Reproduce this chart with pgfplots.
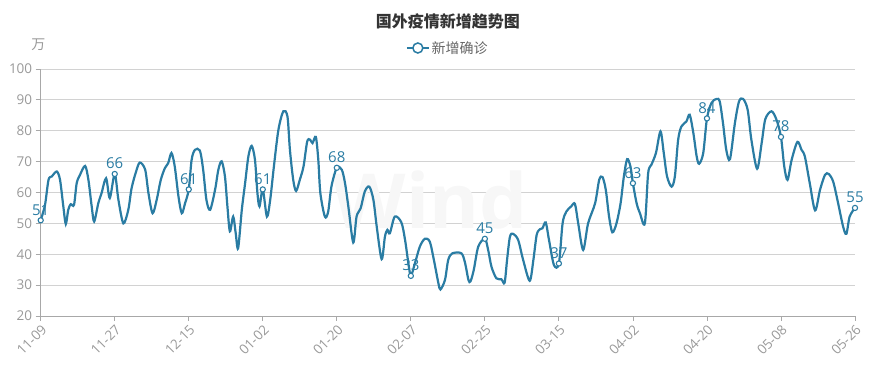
\documentclass[border=0pt]{standalone}
\usepackage{fontspec}
\setmainfont{Open Sans}
\newfontfamily\cjk{Noto Sans CJK SC}
\usepackage{pgfplots}
\pgfplotsset{compat=1.18}
\definecolor{lineblue}{HTML}{2A7CA3}
\definecolor{gridgray}{HTML}{D2D2D2}
\definecolor{axisgray}{HTML}{A8A8A8}
\definecolor{labelgray}{HTML}{999999}
\definecolor{titlegray}{HTML}{333333}
\begin{document}
\begin{tikzpicture}
\path[use as bounding box] (0,0) rectangle (870pt,385pt);
\begin{axis}[
  at={(40.7pt,69pt)}, anchor=south west,
  scale only axis, width=814.3pt, height=247pt,
  xmin=0, xmax=198, ymin=20, ymax=100,
  xtick={0,18,...,198},
  xticklabels={11-09,11-27,12-15,01-02,01-20,02-07,02-25,03-15,04-02,04-20,05-08,05-26},
  ytick={20,30,...,100},
  axis lines*=left,
  tick align=outside, major tick length=5pt,
  tick style={axisgray, line width=0.8pt},
  axis line style={axisgray, line width=0.8pt},
  ymajorgrids, grid style={gridgray, line width=0.8pt},
  ticklabel style={labelgray, font=\fontsize{13.5}{13.5}\selectfont},
  xticklabel style={rotate=45, anchor=north east, inner sep=2pt},
  /pgf/number format/assume math mode=true,
  clip=false,
  title={国外疫情新增趋势图},
  title style={at={(0.5,1.17)}, anchor=center, font=\cjk\bfseries\fontsize{16}{16}\selectfont, text=titlegray},
  legend style={at={(0.5,1.085)}, anchor=center, draw=none, fill=none, font=\cjk\fontsize{14}{14}\selectfont, text=black!60},
  legend image code/.code={
    \draw[lineblue, line width=1.5pt] (0pt,0pt) -- (22pt,0pt);
    \draw[lineblue, line width=1.5pt, fill=white] (11pt,0pt) circle (5pt);
  },
  ylabel={万},
  every axis y label/.style={at={(axis description cs:-0.003,1.097)}, anchor=center, font=\cjk\fontsize{14}{14}\selectfont, text=labelgray},
]
\node[text=black!3, font=\fontsize{76}{76}\selectfont\bfseries] at (axis cs:94.7,57.7) {Wind};
\addplot[lineblue, line width=2.2pt, smooth, forget plot] coordinates {
(0,51) (1.05,56) (1.9,64.1) (2.7,65.2) (3.9,66.8) (4.7,64.1) (5.5,55.5) (6.1,49.8) (6.7,54.4) (7.3,56.2)
(8.1,56) (8.75,63) (9.55,65.7) (10.8,68.6) (11.6,64.1) (12.4,55.5) (13,50.6) (14,56.5) (14.8,59.8) (15.9,64.6)
(16.8,58.2) (18,66) (18.9,57.6) (20.1,50) (21.3,54.4) (22.1,61.4) (23.2,66.8) (24.1,69.7) (25.4,67.4) (26.2,59.8)
(27.2,53.3) (28.2,57.6) (29.2,64.1) (30.2,67.9) (31,69.5) (31.8,72.8) (32.6,68.4) (33.5,58.7) (34.3,53.3) (35.1,56.5)
(36,61) (36.7,70.6) (37.5,73.8) (38.7,73.6) (39.5,67.4) (40.3,57.6) (41.2,54.4) (42.4,60.9) (43.2,67.4) (44,70.1)
(44.8,65.2) (45.4,55.5) (46,47.4) (46.8,52.2) (47.4,47) (48,41.9) (48.9,54.4) (49.7,63) (50.5,71.7) (51.3,75.1)
(52.1,70.6) (52.7,59.8) (53.2,55.5) (54,61) (55,52.2) (55.8,57.6) (56.7,68.4) (57.8,80.3) (59,86.3) (60,84.6)
(60.6,73.8) (61.4,64.1) (62.1,60.5) (63,64.1) (63.9,68.4) (64.8,76.5) (65.5,77.1) (66.1,76) (66.9,78) (67.5,70.6)
(68,59.8) (69.1,52.2) (69.9,53.8) (70.7,62) (72,68) (73.2,67.4) (74,63) (74.8,55.5) (76,43.8) (76.8,52.2)
(77.8,54.9) (78.8,60.3) (79.9,61.9) (80.9,57.6) (81.7,49) (82.9,38.4) (83.7,45.7) (84.3,47.9) (84.9,46.8) (86.1,52.2)
(87.7,50.3) (88.6,44.6) (89.4,37.1) (90,33) (91,37.1) (92.2,42.5) (93.4,45) (94.6,44.1) (95.6,38.2) (96.7,30.6)
(97.2,28.6) (98.3,31.7) (99.1,38.2) (100.1,40.3) (102.3,40.3) (103.2,37.1) (104,31.7) (104.5,31.2) (105.3,34.9) (106.4,42.5)
(108,45) (108.8,41.4) (109.6,36) (110.8,32.2) (112,31.9) (112.8,30.8) (113.4,38.2) (114.1,45.7) (114.9,46.6) (116.1,44.6)
(117.3,38.2) (118.9,31.4) (119.8,38.2) (120.6,46.3) (121.4,48.1) (122,48.4) (122.8,50.3) (123.6,44.6) (124.8,36.5) (126,37)
(126.9,50) (127.8,53.8) (129,55.5) (129.9,56.3) (130.7,50) (131.9,41.4) (133.1,50) (134.8,56.5) (135.8,64.1) (136.6,65)
(137.4,60.9) (138.2,52.2) (139,47.1) (140,50) (141,56.5) (141.8,65.2) (142.6,70.8) (143.4,68.4) (144,63) (144.9,56.5)
(145.7,53.3) (146.9,50) (147.7,66.2) (148.5,69) (149.6,72.8) (150.7,79.8) (151.5,72.8) (152.3,65.2) (153.4,61.9) (154.2,65.2)
(155,77.1) (155.8,81.4) (157,83) (157.8,85.2) (158.7,79.2) (159.5,71.7) (160.1,69.3) (161.1,72.8) (162,84) (163.1,89)
(164.3,90.3) (165.1,89.5) (165.9,82.5) (166.7,73.8) (167.6,70.8) (168.8,82.5) (169.8,89.5) (170.8,90.3) (171.9,86.8) (172.8,77.1)
(174.2,67.7) (175.3,76) (176.2,83.8) (177.7,86.3) (178.9,83.6) (180,78) (180.8,68.4) (181.6,64.1) (182.6,70.6) (184,76.4)
(185,73.8) (185.8,71.7) (187,63) (188.3,54.2) (189.5,60.9) (190.7,65.7) (191.6,66) (192.7,63.5) (193.9,56.5) (195.1,49)
(195.9,46.6) (196.7,52.2) (198,55)
};
\addplot[only marks, mark=*, mark size=2.6pt, mark options={fill=white, draw=lineblue, line width=1.1pt},
  point meta=y,
  nodes near coords={\pgfmathprintnumber[fixed,precision=0]{\pgfplotspointmeta}},
  every node near coord/.style={text=lineblue, font=\fontsize{15}{15}\selectfont, anchor=south, yshift=1pt}]
coordinates {(0,51) (18,66) (36,61) (54,61) (72,68) (90,33) (108,45) (126,37) (144,63) (162,84) (180,78) (198,55)};
\addlegendentry{新增确诊}
\end{axis}
\end{tikzpicture}
\end{document}
